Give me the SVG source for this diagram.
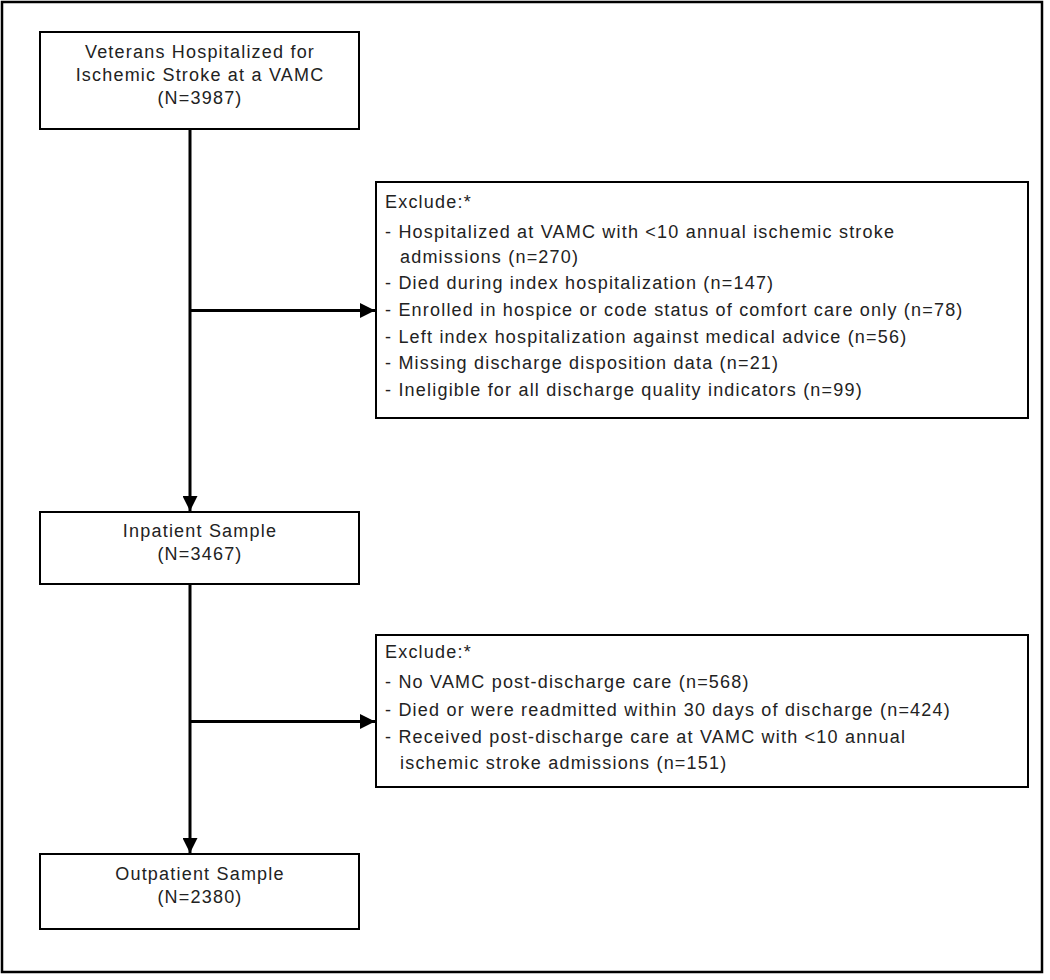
<svg xmlns="http://www.w3.org/2000/svg" width="1050" height="980" viewBox="0 0 1050 980">
<style>
.box{fill:#fff;stroke:#000;stroke-width:2}
.t{font-family:"Liberation Sans",Arial,sans-serif;font-size:18px;fill:#222;letter-spacing:1.2px}
.c{text-anchor:middle}
.ln{stroke:#000;stroke-width:3;fill:none}
</style>
<defs>
<marker id="ah" markerWidth="5" markerHeight="5" refX="5" refY="2.5" orient="auto" markerUnits="strokeWidth">
<path d="M0,0 L5,2.5 L0,5 Z" fill="#000"/>
</marker>
</defs>
<rect x="0" y="0" width="1050" height="980" fill="#fff"/>
<rect x="2" y="2" width="1040" height="970" fill="none" stroke="#000" stroke-width="2.5"/>
<g id="connectors">
<line class="ln" x1="190" y1="129" x2="190" y2="511" marker-end="url(#ah)"/>
<line class="ln" x1="190" y1="310.5" x2="375" y2="310.5" marker-end="url(#ah)"/>
<line class="ln" x1="190" y1="584" x2="190" y2="853" marker-end="url(#ah)"/>
<line class="ln" x1="190" y1="721.5" x2="375" y2="721.5" marker-end="url(#ah)"/>
</g>
<g id="n1">
<rect class="box" x="40" y="32" width="319" height="97"/>
<text class="t c" x="200" y="58">Veterans Hospitalized for</text>
<text class="t c" x="200" y="81">Ischemic Stroke at a VAMC</text>
<text class="t c" x="200" y="104">(N=3987)</text>
</g>
<g id="ex1">
<rect class="box" x="376" y="182" width="652" height="236"/>
<text class="t" x="385" y="208">Exclude:*</text>
<text class="t" x="385" y="238">- Hospitalized at VAMC with &lt;10 annual ischemic stroke</text>
<text class="t" x="400" y="263">admissions (n=270)</text>
<text class="t" x="385" y="289">- Died during index hospitalization (n=147)</text>
<text class="t" x="385" y="316">- Enrolled in hospice or code status of comfort care only (n=78)</text>
<text class="t" x="385" y="343">- Left index hospitalization against medical advice (n=56)</text>
<text class="t" x="385" y="369">- Missing discharge disposition data (n=21)</text>
<text class="t" x="385" y="396">- Ineligible for all discharge quality indicators (n=99)</text>
</g>
<g id="n2">
<rect class="box" x="40" y="512" width="319" height="72"/>
<text class="t c" x="200" y="537">Inpatient Sample</text>
<text class="t c" x="200" y="560">(N=3467)</text>
</g>
<g id="ex2">
<rect class="box" x="376" y="635" width="652" height="152"/>
<text class="t" x="385" y="658">Exclude:*</text>
<text class="t" x="385" y="688">- No VAMC post-discharge care (n=568)</text>
<text class="t" x="385" y="716">- Died or were readmitted within 30 days of discharge (n=424)</text>
<text class="t" x="385" y="743">- Received post-discharge care at VAMC with &lt;10 annual</text>
<text class="t" x="400" y="769">ischemic stroke admissions (n=151)</text>
</g>
<g id="n3">
<rect class="box" x="40" y="854" width="319" height="75"/>
<text class="t c" x="200" y="880">Outpatient Sample</text>
<text class="t c" x="200" y="903">(N=2380)</text>
</g>
</svg>
